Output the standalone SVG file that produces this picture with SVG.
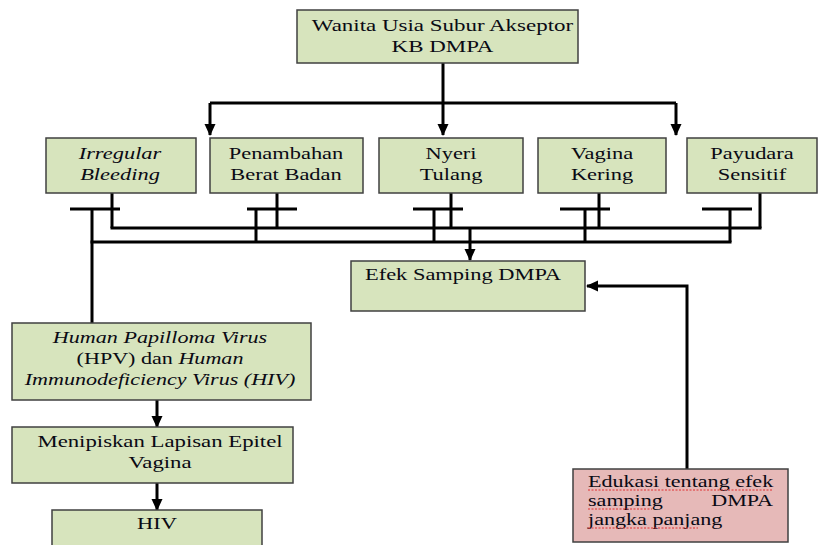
<svg xmlns="http://www.w3.org/2000/svg" width="824" height="545" viewBox="0 0 824 545">
<style>
.box{fill:#d7e4bd;stroke:#404040;stroke-width:1.5}
.pink{fill:#e6b9b8;stroke:#404040;stroke-width:1.5}
.t{font-family:'Liberation Serif','Times New Roman',serif;font-size:17px;fill:#0a0a14}
.c{text-anchor:middle}
.i{font-style:italic}
.ln{fill:none;stroke:#000;stroke-width:3}
.arr{fill:none;stroke:#000;stroke-width:3;marker-end:url(#ah)}
.sq{fill:none;stroke:#e03030;stroke-width:1;stroke-dasharray:2 1.5}
</style>
<defs>
<marker id="ah" markerUnits="userSpaceOnUse" markerWidth="12" markerHeight="12" viewBox="0 0 12 12" refX="11" refY="6" orient="auto">
<path d="M0,0.5 L12,6 L0,11.5 Z" fill="#000"/>
</marker>
</defs>
<rect width="824" height="545" fill="#fff"/>

<g id="connectors">
<path class="ln" d="M443,63 V103"/>
<path class="ln" d="M210,103 H676"/>
<path class="arr" d="M443,103 V135"/>
<path class="arr" d="M210,103 V135"/>
<path class="arr" d="M676,103 V135"/>
<path class="ln" d="M112,193 V228 M277,193 V228 M451,193 V228 M599,193 V228 M760,193 V228"/>
<path class="ln" d="M110.5,228 H761.5"/>
<path class="ln" d="M70,209 H120 M247,209 H297 M413,209 H463 M560,209 H610 M702,209 H752"/>
<path class="ln" d="M92,209 V323 M256,209 V242 M434,209 V242 M585,209 V242 M730,209 V242"/>
<path class="ln" d="M90.5,242 H731.5"/>
<path class="arr" d="M470,228 V260"/>
<path class="arr" d="M687,469 V286 H587"/>
<path class="arr" d="M157,400 V427"/>
<path class="arr" d="M157,483 V510"/>
</g>

<g id="n-wus">
<rect class="box" x="297" y="10" width="281" height="53"/>
<text class="t c" transform="matrix(1.35 0 0 1 442.5 0)" y="31">Wanita Usia Subur Akseptor</text>
<text class="t c" transform="matrix(1.35 0 0 1 442.5 0)" y="52">KB DMPA</text>
</g>

<g id="n-irregular">
<rect class="box" x="46" y="138" width="150" height="55"/>
<text class="t c i" transform="matrix(1.32 0 0 1 120 0)" y="159">Irregular</text>
<text class="t c i" transform="matrix(1.32 0 0 1 120 0)" y="180">Bleeding</text>
</g>

<g id="n-berat">
<rect class="box" x="210" y="138" width="153" height="55"/>
<text class="t c" transform="matrix(1.32 0 0 1 286 0)" y="159">Penambahan</text>
<text class="t c" transform="matrix(1.32 0 0 1 286 0)" y="180">Berat Badan</text>
</g>

<g id="n-tulang">
<rect class="box" x="379" y="138" width="144" height="55"/>
<text class="t c" transform="matrix(1.32 0 0 1 451 0)" y="159">Nyeri</text>
<text class="t c" transform="matrix(1.32 0 0 1 451 0)" y="180">Tulang</text>
</g>

<g id="n-vagina">
<rect class="box" x="538" y="138" width="128" height="55"/>
<text class="t c" transform="matrix(1.32 0 0 1 602 0)" y="159">Vagina</text>
<text class="t c" transform="matrix(1.32 0 0 1 602 0)" y="180">Kering</text>
</g>

<g id="n-payudara">
<rect class="box" x="687" y="138" width="130" height="55"/>
<text class="t c" transform="matrix(1.32 0 0 1 752 0)" y="159">Payudara</text>
<text class="t c" transform="matrix(1.32 0 0 1 752 0)" y="180">Sensitif</text>
</g>

<g id="n-efek">
<rect class="box" x="351" y="261" width="234" height="50"/>
<text class="t" transform="matrix(1.32 0 0 1 365 0)" y="280">Efek Samping DMPA</text>
</g>

<g id="n-hpv">
<rect class="box" x="12" y="323" width="299" height="77"/>
<text class="t c i" transform="matrix(1.3 0 0 1 160 0)" y="343">Human Papilloma Virus</text>
<text class="t c" transform="matrix(1.3 0 0 1 160 0)" y="364">(HPV) dan <tspan class="i">Human</tspan></text>
<text class="t c i" transform="matrix(1.3 0 0 1 160 0)" y="385">Immunodeficiency Virus (HIV)</text>
</g>

<g id="n-epitel">
<rect class="box" x="12" y="427" width="281" height="56"/>
<text class="t c" transform="matrix(1.34 0 0 1 160 0)" y="447">Menipiskan Lapisan Epitel</text>
<text class="t c" transform="matrix(1.34 0 0 1 160 0)" y="468">Vagina</text>
</g>

<g id="n-hiv">
<rect class="box" x="52" y="510" width="210" height="45"/>
<text class="t c" transform="matrix(1.32 0 0 1 157 0)" y="529">HIV</text>
</g>

<g id="n-edukasi">
<rect class="pink" x="573" y="469" width="215" height="73"/>
<text class="t" transform="matrix(1.3 0 0 1 588 0)" y="487">Edukasi tentang efek</text>
<text class="t" transform="matrix(1.3 0 0 1 588 0)" y="506">samping</text>
<text class="t" transform="matrix(1.3 0 0 1 773 0)" y="506" text-anchor="end">DMPA</text>
<text class="t" transform="matrix(1.3 0 0 1 588 0)" y="525">jangka panjang</text>
<path class="sq" d="M588,490 H773 M588,509 H652 M588,528 H698"/>
</g>
</svg>
